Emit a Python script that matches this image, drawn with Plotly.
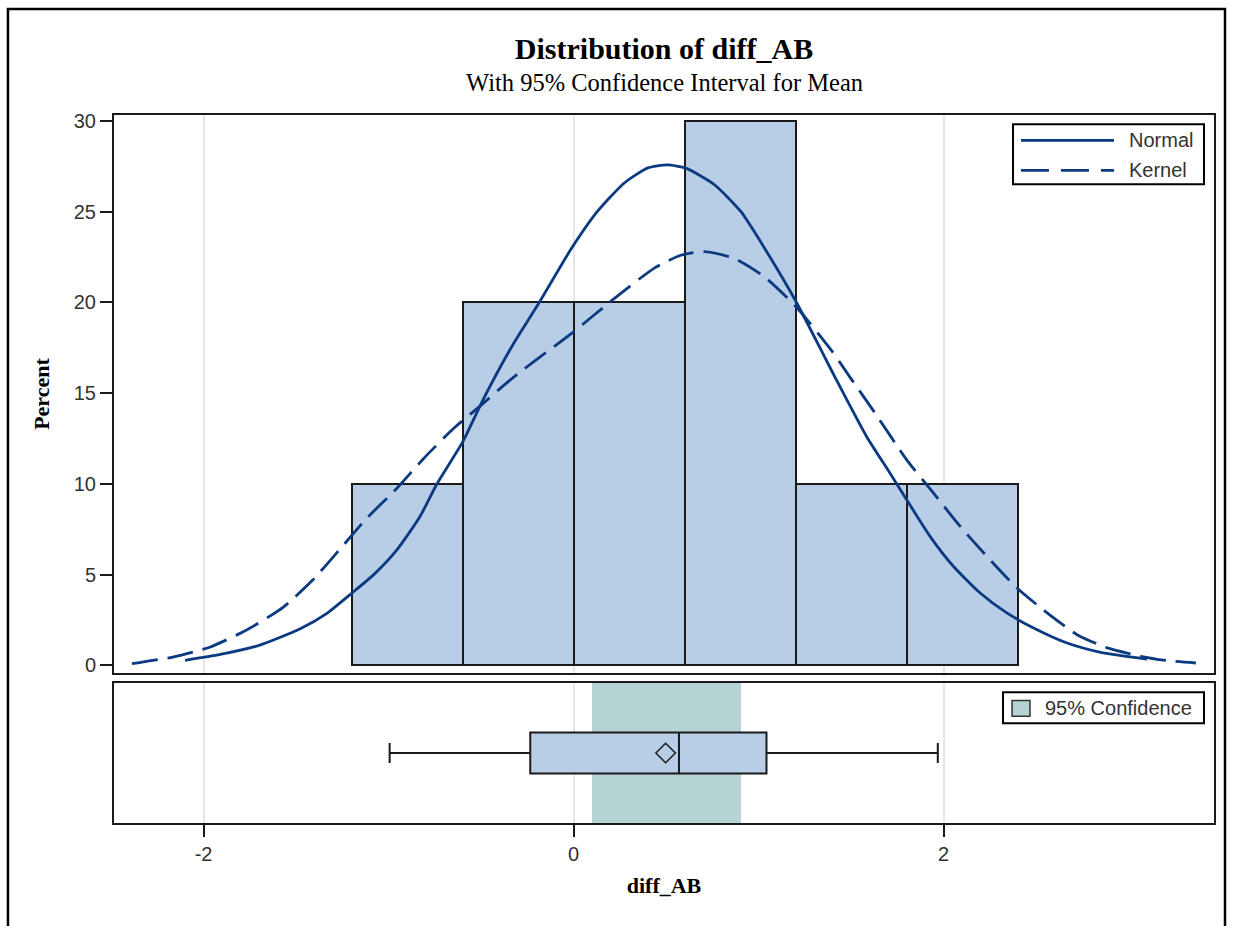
import plotly.graph_objects as go

# ---------------- data ----------------
bin_edges = [-1.2, -0.6, 0.0, 0.6, 1.2, 1.8, 2.4]
bin_percent = [10, 20, 20, 30, 10, 10]

normal_x = [-2.10, -1.91, -1.70, -1.48, -1.335, -1.196, -1.08, -0.956, -0.83, -0.74,
            -0.60, -0.486, -0.324, -0.188, -0.016, 0.128, 0.273, 0.399, 0.508, 0.607,
            0.76, 0.905, 1.05, 1.203, 1.357, 1.42, 1.583, 1.71, 1.80, 1.927,
            2.053, 2.198, 2.342, 2.487, 2.668, 2.849, 3.10]
normal_y = [0.28, 0.6, 1.1, 2.0, 2.85, 4.0, 5.0, 6.35, 8.2, 9.97,
            12.3, 14.7, 17.74, 19.95, 22.9, 25.0, 26.57, 27.4, 27.58, 27.4,
            26.5, 25.0, 22.7, 20.04, 17.0, 15.75, 12.63, 10.6, 9.14, 7.11,
            5.46, 3.99, 2.89, 2.06, 1.23, 0.72, 0.35]

kernel_x = [-2.387, -2.166, -1.967, -1.77, -1.57, -1.41, -1.263, -1.118, -0.956, -0.81,
            -0.649, -0.504, -0.369, -0.287, 0.0, 0.218, 0.435, 0.58, 0.706, 0.869,
            1.031, 1.203, 1.393, 1.493, 1.63, 1.80, 1.945, 2.089, 2.234, 2.397,
            2.56, 2.722, 2.885, 3.066, 3.21, 3.364]
kernel_y = [0.09, 0.46, 1.0, 1.93, 3.2, 4.7, 6.4, 8.1, 9.75, 11.4,
            13.05, 14.3, 15.5, 16.18, 18.38, 20.2, 21.88, 22.6, 22.8, 22.43,
            21.42, 19.76, 17.37, 15.9, 13.9, 11.34, 9.5, 7.67, 6.01, 4.26,
            2.89, 1.69, 0.96, 0.5, 0.26, 0.13]

box_lower_whisker = -0.994
box_q1 = -0.234
box_median = 0.570
box_q3 = 1.043
box_upper_whisker = 1.969
box_mean = 0.498

ci_lower = 0.10
ci_upper = 0.905

x_ticks = [-2, 0, 2]
x_tick_labels = ["-2", "0", "2"]
y_ticks = [0, 5, 10, 15, 20, 25, 30]

# ---------------- styles ----------------
BAR_FILL = "#B8CDE6"
CI_FILL = "#B4D3D2"
CURVE = "#0B3A80"
EDGE = "#1a1a1a"
TXT = "#333333"
GRID = "#E6E6E6"
SANS = "Liberation Sans, Arial, sans-serif"
SERIF = "Liberation Serif, Times New Roman, serif"

centers = [(a + b) / 2 for a, b in zip(bin_edges[:-1], bin_edges[1:])]
widths = [b - a for a, b in zip(bin_edges[:-1], bin_edges[1:])]

fig = go.Figure()

fig.add_trace(go.Bar(
    x=centers, y=bin_percent, width=widths,
    marker=dict(color=BAR_FILL, line=dict(color=EDGE, width=2)),
    xaxis="x", yaxis="y", showlegend=False, hoverinfo="skip"))

fig.add_trace(go.Scatter(
    x=normal_x, y=normal_y, mode="lines", name="Normal",
    line=dict(color=CURVE, width=2.8, shape="spline", smoothing=0.6),
    xaxis="x", yaxis="y", showlegend=False))

fig.add_trace(go.Scatter(
    x=kernel_x, y=kernel_y, mode="lines", name="Kernel",
    line=dict(color=CURVE, width=2.8, dash="26px,10px", shape="spline", smoothing=0.6),
    xaxis="x", yaxis="y", showlegend=False))

fig.add_trace(go.Box(
    y=[0], q1=[box_q1], median=[box_median], q3=[box_q3],
    lowerfence=[box_lower_whisker], upperfence=[box_upper_whisker],
    orientation="h", width=0.586, whiskerwidth=0.49,
    fillcolor=BAR_FILL, line=dict(color=EDGE, width=2),
    boxpoints=False, xaxis="x2", yaxis="y2", showlegend=False, hoverinfo="skip"))

fig.add_trace(go.Scatter(
    x=[box_mean], y=[0], mode="markers",
    marker=dict(symbol="diamond-open", size=15, color=EDGE, line=dict(width=1.5, color=EDGE)),
    xaxis="x2", yaxis="y2", showlegend=False, hoverinfo="skip"))

x_range = [-2.484, 3.462]
common_line = dict(showline=True, mirror=True, linecolor=EDGE, linewidth=2, zeroline=False)

fig.update_layout(
    width=1236, height=926,
    margin=dict(l=114, r=22, t=115, b=103),
    paper_bgcolor="white", plot_bgcolor="white",
    bargap=0,
    title=dict(text="Distribution of diff_AB", x=0.5, xref="paper", xanchor="center",
               y=1 - 48 / 926, yref="container", yanchor="middle",
               font=dict(family=SERIF, size=30, color="black", weight="bold")),
    xaxis=dict(domain=[0, 1], anchor="y", range=x_range, tickvals=x_ticks,
               showticklabels=False, ticks="", showgrid=True, gridcolor=GRID, gridwidth=1.5,
               **common_line),
    yaxis=dict(domain=[0.2119, 1], anchor="x", range=[-0.42, 30.33], tickvals=y_ticks,
               ticks="outside", ticklen=12, tickwidth=2, tickcolor=EDGE, showgrid=False,
               tickfont=dict(family=SANS, size=20, color=TXT),
               title=dict(text="Percent", standoff=18,
                          font=dict(family=SERIF, size=22, color="black", weight="bold")),
               **common_line),
    xaxis2=dict(domain=[0, 1], anchor="y2", matches="x", range=x_range,
                tickvals=x_ticks, ticktext=x_tick_labels,
                ticks="outside", ticklen=12, tickwidth=2, tickcolor=EDGE,
                showgrid=True, gridcolor=GRID, gridwidth=1.5,
                tickfont=dict(family=SANS, size=20, color=TXT),
                title=dict(text="diff_AB", standoff=14,
                           font=dict(family=SERIF, size=22, color="black", weight="bold")),
                **common_line),
    yaxis2=dict(domain=[0, 0.1977], anchor="x2", range=[-1, 1], showticklabels=False,
                ticks="", showgrid=False, **common_line),
)

shapes = [
    # 95% confidence band
    dict(type="rect", xref="x2", yref="y2 domain", x0=ci_lower, x1=ci_upper, y0=0, y1=1,
         fillcolor=CI_FILL, line=dict(width=0), layer="below"),
    # outer frame
    dict(type="rect", xref="paper", yref="paper", x0=-0.0964, x1=1.01, y0=-0.2, y1=1.1497,
         line=dict(color="black", width=2.5), fillcolor="rgba(0,0,0,0)"),
    # upper legend
    dict(type="rect", xref="x domain", yref="y domain", x0=0.8173, x1=0.9909, y0=0.8758, y1=0.9833,
         line=dict(color="black", width=2), fillcolor="white"),
    dict(type="line", xref="x domain", yref="y domain", x0=0.8245, x1=0.9091, y0=0.9546, y1=0.9546,
         line=dict(color=CURVE, width=2.8)),
    dict(type="line", xref="x domain", yref="y domain", x0=0.8245, x1=0.9091, y0=0.9008, y1=0.9008,
         line=dict(color=CURVE, width=2.8, dash="28px,12px")),
    # lower legend
    dict(type="rect", xref="x2 domain", yref="y2 domain", x0=0.8082, x1=0.9909, y0=0.712, y1=0.9336,
         line=dict(color="black", width=2), fillcolor="white"),
    dict(type="rect", xref="x2 domain", yref="y2 domain", x0=0.8164, x1=0.8327, y0=0.762, y1=0.876,
         line=dict(color="#333333", width=1.5), fillcolor=CI_FILL),
]
fig.update_layout(shapes=shapes)

annotations = [
    dict(text="With 95% Confidence Interval for Mean", xref="paper", yref="paper",
         x=0.5, y=(823 - 83) / 708, xanchor="center", yanchor="middle", showarrow=False,
         font=dict(family=SERIF, size=24.5, color="black")),
    dict(text="Normal", xref="x domain", yref="y domain", x=0.9209, y=0.9546,
         xanchor="left", yanchor="middle", showarrow=False,
         font=dict(family=SANS, size=20, color=TXT)),
    dict(text="Kernel", xref="x domain", yref="y domain", x=0.9209, y=0.9008,
         xanchor="left", yanchor="middle", showarrow=False,
         font=dict(family=SANS, size=20, color=TXT)),
    dict(text="95% Confidence", xref="x2 domain", yref="y2 domain", x=0.8445, y=0.819,
         xanchor="left", yanchor="middle", showarrow=False,
         font=dict(family=SANS, size=20, color=TXT)),
]
fig.update_layout(annotations=annotations)

fig.write_html("out.html",
               config={"displayModeBar": False},
               post_script="document.body.style.margin='0';document.body.style.overflow='hidden';")
